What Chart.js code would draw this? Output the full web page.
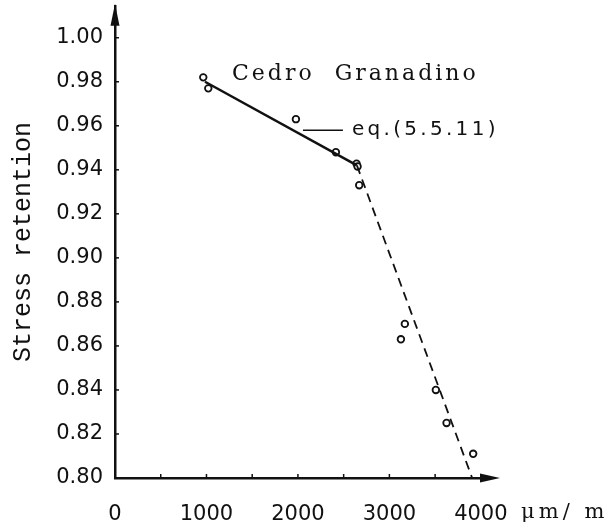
<!DOCTYPE html>
<html>
<head>
<meta charset="utf-8">
<script src="https://cdn.jsdelivr.net/npm/chart.js@4.4.1/dist/chart.umd.min.js"></script>
<style>
  html, body { margin: 0; padding: 0; background: #fff; }
  #wrap { width: 612px; height: 532px; }
</style>
</head>
<body>
<div id="wrap"><canvas id="chart" width="612" height="532"></canvas></div>
<script>
// measured points (strain in um/m vs stress retention)
const strainPts    = [965, 1020, 1978, 2415, 2641, 2652, 2670, 3169, 3126, 3508, 3625, 3916];
const retentionPts = [0.982, 0.977, 0.963, 0.948, 0.9428, 0.9415, 0.933, 0.870, 0.863, 0.840, 0.825, 0.811];

// eq.(5.5.11) fit (solid) and its extension (dashed)
const fitStrain = [984, 2645];
const fitRet    = [0.980, 0.942];
const extStrain = [2645, 3905];
const extRet    = [0.942, 0.800];

// axes
const xTicks      = [0, 1000, 2000, 3000, 4000];
const xMinorTicks = [500, 1000, 1500, 2000, 2500, 3000, 3500, 4000];
const yTicks      = [0.80, 0.82, 0.84, 0.86, 0.88, 0.90, 0.92, 0.94, 0.96, 0.98, 1.00];

const speciesLabel = 'Cedro  Granadino';
const eqLabel      = 'eq.(5.5.11)';
const unitLabel    = 'μm/ m';
const yTitle       = 'Stress retention';

const INK = '#111';

const toXY = (xs, ys) => xs.map((x, i) => ({ x: x, y: ys[i] }));

/* ===== extra drawing: arrows, inner ticks, labels ===== */
const decorations = {
  id: 'decorations',
  afterDraw(chart) {
    const ctx = chart.ctx;
    const xs = chart.scales.x, ys = chart.scales.y;
    const area = chart.chartArea;
    const x0 = xs.getPixelForValue(0), y0 = ys.getPixelForValue(0.80);
    ctx.save();
    ctx.fillStyle = INK;
    ctx.strokeStyle = INK;

    // y arrow head
    ctx.beginPath();
    ctx.moveTo(x0, area.top - 2);
    ctx.lineTo(x0 - 4.5, area.top + 20);
    ctx.lineTo(x0 + 4.5, area.top + 20);
    ctx.closePath();
    ctx.fill();

    // x arrow head
    ctx.beginPath();
    ctx.moveTo(area.right + 10, y0);
    ctx.lineTo(area.right - 10, y0 - 4.5);
    ctx.lineTo(area.right - 10, y0 + 4.5);
    ctx.closePath();
    ctx.fill();

    // little tick marks pointing into the plot
    ctx.lineWidth = 1.5;
    yTicks.forEach(v => {
      const py = ys.getPixelForValue(v);
      ctx.beginPath(); ctx.moveTo(x0, py); ctx.lineTo(x0 + 4, py); ctx.stroke();
    });
    xMinorTicks.forEach(v => {
      const px = xs.getPixelForValue(v);
      ctx.beginPath(); ctx.moveTo(px, y0); ctx.lineTo(px, y0 - 4); ctx.stroke();
    });

    ctx.textBaseline = 'middle';
    ctx.textAlign = 'left';

    // unit after the last x label
    ctx.font = '21px "DejaVu Serif"';
    ctx.letterSpacing = '4px';
    ctx.fillText(unitLabel, xs.getPixelForValue(4440), 513);

    // species name
    ctx.font = '22px "DejaVu Serif"';
    ctx.letterSpacing = '3px';
    ctx.fillText(speciesLabel, xs.getPixelForValue(1279), ys.getPixelForValue(0.9833));

    // eq label with leader line
    const ly = ys.getPixelForValue(0.958);
    ctx.lineWidth = 1.5;
    ctx.beginPath();
    ctx.moveTo(xs.getPixelForValue(2055), ly);
    ctx.lineTo(xs.getPixelForValue(2492), ly);
    ctx.stroke();
    ctx.font = '20px "DejaVu Sans"';
    ctx.letterSpacing = '3.3px';
    ctx.fillText(eqLabel, xs.getPixelForValue(2590), ly);
    ctx.restore();
  }
};

new Chart(document.getElementById('chart'), {
  type: 'scatter',
  data: {
    datasets: [
      {
        label: 'fit',
        type: 'line',
        data: toXY(fitStrain, fitRet),
        borderColor: INK, borderWidth: 2.5,
        pointRadius: 0, fill: false, tension: 0
      },
      {
        label: 'extension',
        type: 'line',
        data: toXY(extStrain, extRet),
        borderColor: INK, borderWidth: 1.8, borderDash: [9, 6],
        pointRadius: 0, fill: false, tension: 0
      },
      {
        label: 'tests',
        data: toXY(strainPts, retentionPts),
        pointRadius: 3.3, pointBorderWidth: 1.8,
        pointBorderColor: INK, pointBackgroundColor: '#fff'
      }
    ]
  },
  options: {
    responsive: false,
    animation: false,
    layout: { padding: { top: 3, right: 122, left: 0, bottom: 0 } },
    plugins: { legend: { display: false }, tooltip: { enabled: false } },
    scales: {
      x: {
        type: 'linear', min: 0, max: 4100,
        afterBuildTicks: s => { s.ticks = xTicks.map(v => ({ value: v })); },
        afterFit: s => { s.height = 54; s.paddingLeft = 0; s.paddingRight = 0; },
        grid: { display: false, drawTicks: false },
        border: { display: true, color: INK, width: 2.5 },
        ticks: {
          color: INK, padding: 24, maxRotation: 0,
          font: { family: 'DejaVu Sans', size: 21 },
          callback: v => String(v)
        }
      },
      y: {
        type: 'linear', min: 0.80, max: 1.0145,
        afterBuildTicks: s => { s.ticks = yTicks.map(v => ({ value: v })); },
        afterFit: s => { s.width = 115; s.paddingTop = 0; s.paddingBottom = 0; },
        grid: { display: false, drawTicks: false },
        border: { display: true, color: INK, width: 2.5 },
        title: {
          display: true, text: yTitle, color: INK,
          font: { family: 'Liberation Mono', size: 25 },
          padding: { top: 8, bottom: 0 }
        },
        ticks: {
          color: INK, padding: 12,
          font: { family: 'DejaVu Sans', size: 21 },
          callback: v => v.toFixed(2)
        }
      }
    }
  },
  plugins: [decorations]
});
</script>
</body>
</html>
